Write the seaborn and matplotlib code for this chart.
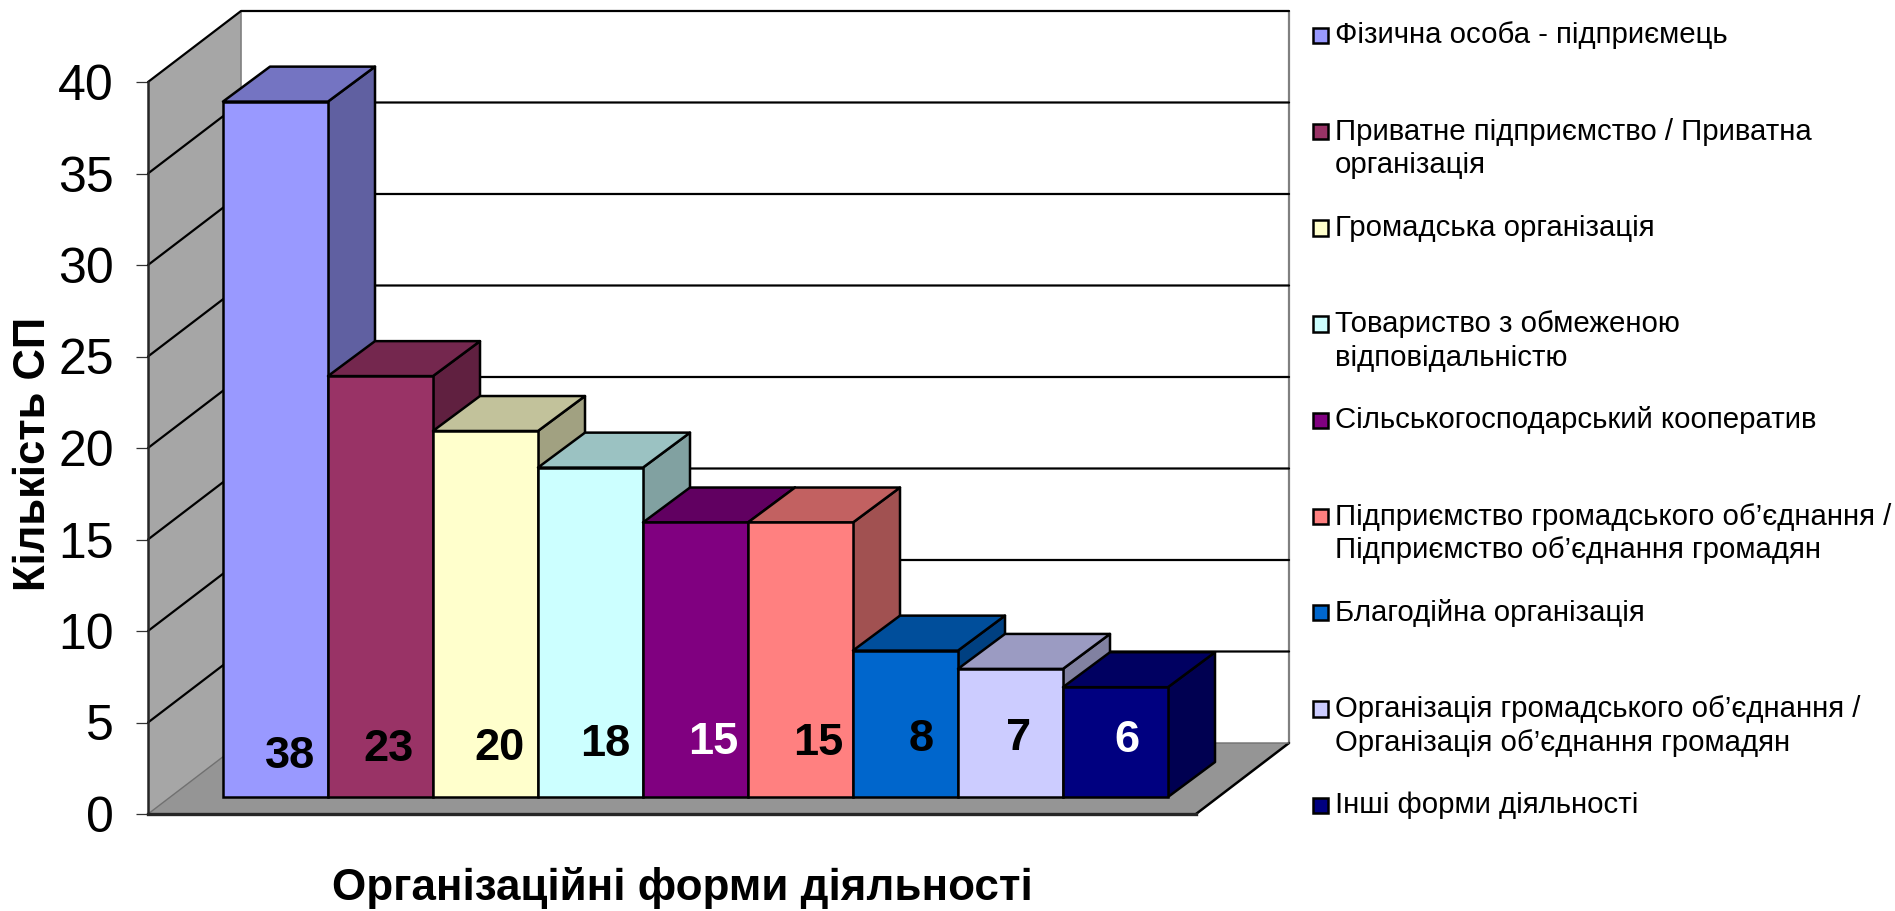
import matplotlib
matplotlib.use("Agg")
import matplotlib.pyplot as plt
import seaborn as sns
import pandas as pd
from matplotlib.patches import Patch, Polygon, Rectangle
from matplotlib.legend_handler import HandlerPatch
from matplotlib.transforms import Affine2D
from matplotlib.colors import to_rgb

# ---- data ----
categories = [
    "Фізична особа - підприємець",
    "Приватне підприємство / Приватна\nорганізація",
    "Громадська організація",
    "Товариство з обмеженою\nвідповідальністю",
    "Сільськогосподарський кооператив",
    "Підприємство громадського об’єднання /\nПідприємство об’єднання громадян",
    "Благодійна організація",
    "Організація громадського об’єднання /\nОрганізація об’єднання громадян",
    "Інші форми діяльності",
]
values = [38, 23, 20, 18, 15, 15, 8, 7, 6]
colors = ["#9999FF", "#993366", "#FFFFCC", "#CCFFFF", "#800080",
          "#FF8080", "#0066CC", "#CCCCFF", "#000080"]
label_colors = ["black", "black", "black", "black", "white",
                "black", "black", "black", "white"]
y_ticks = [0, 5, 10, 15, 20, 25, 30, 35, 40]
x_title = "Організаційні форми діяльності"
y_title = "Кількість СП"

# ---- layout (3-D look, in data units) ----
W, H = 1895, 911
WALL_DX, WALL_DY = 0.886, 3.88
BAR_DX, BAR_DY = 0.448, 1.91
BAR_LIFT = 0.93
label_dx = [0.138, 0.081, 0.138, 0.143, 0.167, 0.167, 0.148, 0.081, 0.11]
label_y = [3.12, 3.51, 3.56, 3.78, 3.89, 3.83, 4.05, 4.1, 4.0]

sns.set_theme(style="white")
plt.rcParams["font.family"] = ["Liberation Sans", "DejaVu Sans"]
plt.rcParams["text.color"] = "black"
plt.rcParams["axes.labelcolor"] = "black"

fig = plt.figure(figsize=(W / 100, H / 100), dpi=100, facecolor="white")
ax = fig.add_axes([148 / W, (H - 814) / H, 1048 / W, 732 / H])
ax.patch.set_visible(False)

df = pd.DataFrame({"cat": categories, "val": values})
sns.barplot(data=df, x="cat", y="val", hue="cat", order=categories,
            hue_order=categories, palette=colors, width=1, legend=False,
            saturation=1, edgecolor="black", linewidth=1.8, ax=ax)

x_left, x_right = -1.214, 8.767
ax.set_xlim(x_left, x_right)
ax.set_ylim(0, 40)


def shade(c, k):
    return tuple(v * k for v in to_rgb(c))


# walls and floor
ax.add_patch(Polygon([(x_left, 0), (x_left, 40),
                      (x_left + WALL_DX, 40 + WALL_DY), (x_left + WALL_DX, WALL_DY)],
                     closed=True, fc="#A6A6A6", ec="none", clip_on=False, zorder=1))
ax.add_patch(Polygon([(x_left, 0), (x_right, 0),
                      (x_right + WALL_DX, WALL_DY), (x_left + WALL_DX, WALL_DY)],
                     closed=True, fc="#959595", ec="none", clip_on=False, zorder=1))
ax.plot([x_left + WALL_DX] * 2, [WALL_DY, 40 + WALL_DY], color="#808080", lw=1.2,
        clip_on=False, zorder=1.5)
ax.plot([x_right + WALL_DX] * 2, [WALL_DY, 40 + WALL_DY], color="#808080", lw=1.6,
        clip_on=False, zorder=1.5)
ax.plot([x_right, x_right + WALL_DX], [0, WALL_DY], color="black", lw=1.8,
        clip_on=False, zorder=1.5)
for v in y_ticks:
    ax.plot([x_left, x_left + WALL_DX, x_right + WALL_DX],
            [v, v + WALL_DY, v + WALL_DY], color="black" if v else "#707070",
            lw=1.6 if v else 1.0, clip_on=False, zorder=1.5)

# bars: front faces from seaborn, depth faces derived from their geometry
lift = Affine2D().translate(0, BAR_LIFT) + ax.transData
for i, bar in enumerate(ax.patches[:len(values)]):
    x0, w, h = bar.get_x(), bar.get_width(), bar.get_height()
    z = 3 + i
    bar.set_transform(lift)
    bar.set_clip_on(False)
    bar.set_zorder(z + 0.2)
    ax.add_patch(Polygon([(x0 + w, 0), (x0 + w, h), (x0 + w + BAR_DX, h + BAR_DY),
                          (x0 + w + BAR_DX, BAR_DY)], closed=True,
                         fc=shade(colors[i], 0.63), ec="black", lw=1.8, transform=lift,
                         clip_on=False, zorder=z, joinstyle="round"))
    ax.add_patch(Polygon([(x0, h), (x0 + w, h), (x0 + w + BAR_DX, h + BAR_DY),
                          (x0 + BAR_DX, h + BAR_DY)], closed=True,
                         fc=shade(colors[i], 0.76), ec="black", lw=1.8, transform=lift,
                         clip_on=False, zorder=z + 0.1, joinstyle="round"))
    ax.text(i + label_dx[i], label_y[i], str(values[i]), color=label_colors[i],
            ha="center", va="center", fontsize=32.5, fontweight="bold", zorder=30)

# axes furniture
for s in ("top", "right"):
    ax.spines[s].set_visible(False)
ax.spines["left"].set_linewidth(1.8)
ax.spines["left"].set_zorder(2)
ax.spines["bottom"].set_linewidth(2.4)
ax.spines["bottom"].set_zorder(2)
ax.set_xticks([])
ax.set_yticks(y_ticks)
ax.tick_params(axis="y", left=True, length=8.6, width=0.9, color="#333333",
               labelsize=36, pad=16, labelcolor="black")
ax.set_xlabel(x_title, fontsize=31.7, fontweight="bold")
ax.xaxis.set_label_coords((682 - 148) / 1048, (814 - 888) / 732)
ax.xaxis.label.set_va("center")
ax.set_ylabel(y_title, fontsize=31.4, fontweight="bold")
ax.yaxis.set_label_coords((34 - 148) / 1048, (814 - 454) / 732)
ax.yaxis.label.set_va("center")


# legend: every entry takes two lines so that rows are evenly spaced
def top_line_patch(legend, orig_handle, xdescent, ydescent, width, height, fontsize):
    return Rectangle((0, 14.5), 11, 11)


handles = [Patch(facecolor=c, edgecolor="black", linewidth=1.8) for c in colors]
labels = [c if "\n" in c else c + "\n " for c in categories]
leg = fig.legend(handles, labels, loc="upper left",
                 bbox_to_anchor=(1313 / W, 1 - 21.4 / H), borderaxespad=0, borderpad=0,
                 frameon=False, fontsize=21.2, labelspacing=1.18, handlelength=0.576,
                 handleheight=0.576, handletextpad=0.175,
                 handler_map={Patch: HandlerPatch(patch_func=top_line_patch)})
for t in leg.get_texts():
    t.set_linespacing(1.25)
    t.set_color("black")

fig.savefig("out.png", dpi=100)
